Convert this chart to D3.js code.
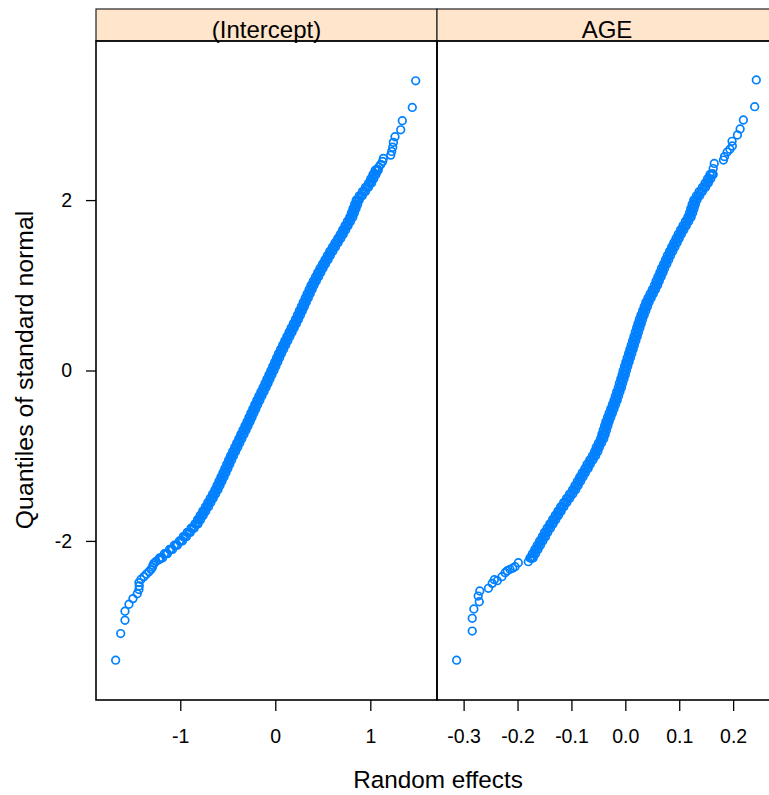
<!DOCTYPE html>
<html>
<head>
<meta charset="utf-8">
<script src="https://cdn.jsdelivr.net/npm/d3@7"></script>
<style>
  html, body { margin: 0; padding: 0; background: #fff; }
  svg { display: block; }
  text { font-family: "Liberation Sans", Arial, Helvetica, sans-serif; fill: #000; }
</style>
</head>
<body>
<svg id="chart" width="769" height="795"></svg>
<script>
// Normal QQ plots of the random effects, one panel per term.

const panelNames = ["(Intercept)", "AGE"];
const yTicks = [-2, 0, 2];
const interceptTicks = [-1, 0, 1];
const ageTicks = [-0.3, -0.2, -0.1, 0.0, 0.1, 0.2];
const xTitle = "Random effects";
const yTitle = "Quantiles of standard normal";

// (Intercept): isolated points in the lower tail, [effect, quantile]
const interceptLow = [
  [-1.680,-3.400],[-1.627,-3.087],[-1.582,-2.931],[-1.582,-2.825],[-1.540,-2.743],
  [-1.498,-2.677],[-1.453,-2.620],[-1.435,-2.571],[-1.432,-2.528],[-1.435,-2.489],
  [-1.414,-2.453],[-1.382,-2.419],[-1.356,-2.389],[-1.329,-2.360],[-1.308,-2.334],
  [-1.293,-2.309],[-1.287,-2.285],[-1.277,-2.263],[-1.256,-2.241],[-1.224,-2.221]
];
// (Intercept): the dense body, [quantile, effects across the band: left, middle, right]
const interceptBand = [
  [-2.20,-1.219,-1.203,-1.187],[-2.15,-1.167,-1.151,-1.135],[-2.10,-1.114,-1.098,-1.082],
  [-2.05,-1.062,-1.046,-1.030],[-2.00,-1.009,-0.993,-0.977],[-1.95,-0.968,-0.952,-0.936],
  [-1.90,-0.927,-0.911,-0.895],[-1.85,-0.886,-0.870,-0.854],[-1.80,-0.845,-0.829,-0.813],
  [-1.75,-0.818,-0.802,-0.786],[-1.70,-0.790,-0.774,-0.758],[-1.65,-0.763,-0.747,-0.731],
  [-1.60,-0.735,-0.719,-0.703],[-1.55,-0.710,-0.694,-0.678],[-1.50,-0.685,-0.669,-0.653],
  [-1.45,-0.660,-0.644,-0.628],[-1.40,-0.635,-0.619,-0.603],[-1.35,-0.614,-0.598,-0.582],
  [-1.30,-0.593,-0.577,-0.561],[-1.25,-0.572,-0.556,-0.540],[-1.20,-0.551,-0.535,-0.519],
  [-1.15,-0.531,-0.515,-0.499],[-1.10,-0.511,-0.495,-0.479],[-1.05,-0.491,-0.475,-0.459],
  [-1.00,-0.471,-0.455,-0.439],[-0.95,-0.449,-0.433,-0.417],[-0.90,-0.427,-0.411,-0.395],
  [-0.85,-0.406,-0.390,-0.374],[-0.80,-0.384,-0.368,-0.352],[-0.75,-0.362,-0.346,-0.330],
  [-0.70,-0.340,-0.324,-0.308],[-0.65,-0.319,-0.303,-0.287],[-0.60,-0.297,-0.281,-0.265],
  [-0.55,-0.277,-0.261,-0.245],[-0.50,-0.257,-0.241,-0.225],[-0.45,-0.236,-0.220,-0.204],
  [-0.40,-0.216,-0.200,-0.184],[-0.35,-0.194,-0.178,-0.162],[-0.30,-0.173,-0.157,-0.141],
  [-0.25,-0.151,-0.135,-0.119],[-0.20,-0.129,-0.113,-0.097],[-0.15,-0.108,-0.092,-0.076],
  [-0.10,-0.088,-0.072,-0.056],[-0.05,-0.067,-0.051,-0.035],[ 0.00,-0.046,-0.030,-0.014],
  [ 0.05,-0.026,-0.010, 0.006],[ 0.10,-0.006, 0.010, 0.026],[ 0.15, 0.014, 0.030, 0.046],
  [ 0.20, 0.034, 0.050, 0.066],[ 0.25, 0.056, 0.072, 0.088],[ 0.30, 0.078, 0.094, 0.110],
  [ 0.35, 0.100, 0.116, 0.132],[ 0.40, 0.122, 0.138, 0.154],[ 0.45, 0.145, 0.161, 0.177],
  [ 0.50, 0.167, 0.183, 0.199],[ 0.55, 0.190, 0.206, 0.222],[ 0.60, 0.212, 0.228, 0.244],
  [ 0.65, 0.233, 0.249, 0.265],[ 0.70, 0.253, 0.269, 0.285],[ 0.75, 0.274, 0.290, 0.306],
  [ 0.80, 0.294, 0.310, 0.326],[ 0.85, 0.315, 0.331, 0.347],[ 0.90, 0.335, 0.351, 0.367],
  [ 0.95, 0.356, 0.372, 0.388],[ 1.00, 0.376, 0.392, 0.408],[ 1.05, 0.400, 0.416, 0.432],
  [ 1.10, 0.424, 0.440, 0.456],[ 1.15, 0.447, 0.463, 0.479],[ 1.20, 0.471, 0.487, 0.503],
  [ 1.25, 0.497, 0.513, 0.529],[ 1.30, 0.523, 0.539, 0.555],[ 1.35, 0.548, 0.564, 0.580],
  [ 1.40, 0.574, 0.590, 0.606],[ 1.45, 0.602, 0.618, 0.634],[ 1.50, 0.629, 0.645, 0.661],
  [ 1.55, 0.657, 0.673, 0.689],[ 1.60, 0.684, 0.700, 0.716],[ 1.65, 0.709, 0.725, 0.741],
  [ 1.70, 0.734, 0.750, 0.766],[ 1.75, 0.759, 0.775, 0.791],[ 1.80, 0.784, 0.800, 0.816],
  [ 1.85, 0.801, 0.817, 0.833],[ 1.90, 0.818, 0.834, 0.850],[ 1.95, 0.835, 0.851, 0.867],
  [ 2.00, 0.852, 0.868, 0.884],[ 2.05, 0.884, 0.900, 0.916],[ 2.10, 0.917, 0.933, 0.949],
  [ 2.15, 0.949, 0.965, 0.981],[ 2.20, 0.982, 0.998, 1.014],[ 2.25, 1.005, 1.021, 1.037],
  [ 2.30, 1.028, 1.044, 1.060],[ 2.35, 1.051, 1.067, 1.083]
];
// (Intercept): isolated points in the upper tail, [effect, quantile]
const interceptHigh = [
  [1.478,3.400],[1.442,3.087],[1.337,2.931],[1.320,2.825],[1.260,2.743],
  [1.243,2.677],[1.236,2.620],[1.225,2.571],[1.215,2.528],[1.137,2.489],
  [1.130,2.453],[1.110,2.419],[1.090,2.389],[1.075,2.360]
];

// AGE: isolated points in the lower tail, [effect, quantile]
const ageLow = [
  [-0.313,-3.400],[-0.284,-3.058],[-0.284,-2.908],[-0.281,-2.799],[-0.271,-2.714],
  [-0.273,-2.647],[-0.270,-2.588],[-0.254,-2.556],[-0.247,-2.498],[-0.2375,-2.467],
  [-0.243,-2.455],[-0.229,-2.420],[-0.223,-2.373],[-0.219,-2.350],[-0.214,-2.333],
  [-0.209,-2.320],[-0.2046,-2.303],[-0.1985,-2.256],[-0.180,-2.244],[-0.174,-2.204]
];
// AGE: the dense body, [quantile, effects across the band: left, middle, right]
const ageBand = [
  [-2.20,-0.177,-0.174,-0.171],[-2.15,-0.1725,-0.1695,-0.1665],[-2.10,-0.168,-0.165,-0.162],
  [-2.05,-0.1635,-0.1605,-0.1575],[-2.00,-0.159,-0.156,-0.153],[-1.95,-0.154,-0.151,-0.148],
  [-1.90,-0.150,-0.147,-0.144],[-1.85,-0.145,-0.142,-0.139],[-1.80,-0.140,-0.137,-0.134],
  [-1.75,-0.135,-0.132,-0.129],[-1.70,-0.130,-0.127,-0.124],[-1.65,-0.125,-0.122,-0.119],
  [-1.60,-0.120,-0.117,-0.114],[-1.55,-0.1145,-0.1115,-0.1085],[-1.50,-0.109,-0.106,-0.103],
  [-1.45,-0.1035,-0.1005,-0.0975],[-1.40,-0.098,-0.095,-0.092],[-1.35,-0.0935,-0.0905,-0.0875],
  [-1.30,-0.089,-0.086,-0.083],[-1.25,-0.0845,-0.0815,-0.0785],[-1.20,-0.080,-0.077,-0.074],
  [-1.15,-0.075,-0.072,-0.069],[-1.10,-0.071,-0.068,-0.065],[-1.05,-0.066,-0.063,-0.060],
  [-1.00,-0.061,-0.058,-0.055],[-0.95,-0.057,-0.054,-0.051],[-0.90,-0.054,-0.051,-0.048],
  [-0.85,-0.050,-0.047,-0.044],[-0.80,-0.046,-0.043,-0.040],[-0.75,-0.0435,-0.0405,-0.0375],
  [-0.70,-0.041,-0.038,-0.035],[-0.65,-0.0385,-0.0355,-0.0325],[-0.60,-0.036,-0.033,-0.030],
  [-0.55,-0.033,-0.030,-0.027],[-0.50,-0.030,-0.027,-0.024],[-0.45,-0.027,-0.024,-0.021],
  [-0.40,-0.024,-0.021,-0.018],[-0.35,-0.021,-0.018,-0.015],[-0.30,-0.0185,-0.0155,-0.0125],
  [-0.25,-0.016,-0.013,-0.010],[-0.20,-0.013,-0.010,-0.007],[-0.15,-0.011,-0.008,-0.005],
  [-0.10,-0.0085,-0.0055,-0.0025],[-0.05,-0.006,-0.003,0.000],[ 0.00,-0.004,-0.001,0.002],
  [ 0.05,-0.0015,0.0015,0.0045],[ 0.10,0.001,0.004,0.007],[ 0.15,0.0035,0.0065,0.0095],
  [ 0.20,0.006,0.009,0.012],[ 0.25,0.0085,0.0115,0.0145],[ 0.30,0.011,0.014,0.017],
  [ 0.35,0.0135,0.0165,0.0195],[ 0.40,0.016,0.019,0.022],[ 0.45,0.0185,0.0215,0.0245],
  [ 0.50,0.021,0.024,0.027],[ 0.55,0.0235,0.0265,0.0295],[ 0.60,0.026,0.029,0.032],
  [ 0.65,0.029,0.032,0.035],[ 0.70,0.032,0.035,0.038],[ 0.75,0.035,0.038,0.041],
  [ 0.80,0.038,0.041,0.044],[ 0.85,0.042,0.045,0.048],[ 0.90,0.046,0.049,0.052],
  [ 0.95,0.050,0.053,0.056],[ 1.00,0.054,0.057,0.060],[ 1.05,0.057,0.060,0.063],
  [ 1.10,0.0605,0.0635,0.0665],[ 1.15,0.064,0.067,0.070],[ 1.20,0.067,0.070,0.073],
  [ 1.25,0.071,0.074,0.077],[ 1.30,0.0745,0.0775,0.0805],[ 1.35,0.078,0.081,0.084],
  [ 1.40,0.082,0.085,0.088],[ 1.45,0.086,0.089,0.092],[ 1.50,0.090,0.093,0.096],
  [ 1.55,0.094,0.097,0.100],[ 1.60,0.098,0.101,0.104],[ 1.65,0.1025,0.1055,0.1085],
  [ 1.70,0.107,0.110,0.113],[ 1.75,0.1115,0.1145,0.1175],[ 1.80,0.116,0.119,0.122],
  [ 1.85,0.119,0.122,0.125],[ 1.90,0.1215,0.1245,0.1275],[ 1.95,0.124,0.127,0.130],
  [ 2.00,0.127,0.130,0.133],[ 2.05,0.132,0.135,0.138],[ 2.10,0.137,0.140,0.143],
  [ 2.15,0.143,0.146,0.149],[ 2.20,0.148,0.151,0.154],[ 2.25,0.1525,0.1555,0.1585],
  [ 2.30,0.157,0.160,0.163]
];
// AGE: isolated points in the upper tail, [effect, quantile]
const ageHigh = [
  [0.243,3.410],[0.240,3.096],[0.219,2.940],[0.213,2.835],[0.208,2.764],
  [0.198,2.690],[0.1985,2.635],[0.194,2.596],[0.189,2.564],[0.184,2.510],
  [0.182,2.470],[0.165,2.430],[0.163,2.370],[0.162,2.310]
];

// ---------------------------------------------------------------------------
const svg = d3.select("#chart");
const plotTop = 41, plotBottom = 700, stripTop = 9;
const pointColor = "#0080ff";
const fmtInt = d => String(d);
const fmtOne = d => d.toFixed(1);

const panels = [
  { name: panelNames[0], x0: 96,  x1: 437, domain: [-1.887, 1.702],
    ticks: interceptTicks, fmt: fmtInt, low: interceptLow, band: interceptBand, high: interceptHigh },
  { name: panelNames[1], x0: 437, x1: 777, domain: [-0.3494, 0.2814],
    ticks: ageTicks, fmt: fmtOne, low: ageLow, band: ageBand, high: ageHigh }
];

const y = d3.scaleLinear().domain([-3.867, 3.867]).range([plotBottom, plotTop]);

panels.forEach(p => {
  const x = d3.scaleLinear().domain(p.domain).range([p.x0, p.x1]);

  // gather the points: [effect, quantile]
  const pts = [];
  p.low.forEach(d => pts.push(d));
  p.band.forEach(r => r.slice(1).forEach(v => pts.push([v, r[0]])));
  p.high.forEach(d => pts.push(d));

  // strip
  svg.append("rect")
    .attr("x", p.x0).attr("y", stripTop)
    .attr("width", p.x1 - p.x0).attr("height", plotTop - stripTop)
    .attr("fill", "#ffe5cc").attr("stroke", "#222").attr("stroke-width", 1.2);
  svg.append("text")
    .attr("x", (p.x0 + p.x1) / 2).attr("y", 37.7)
    .attr("text-anchor", "middle").attr("font-size", "24px")
    .text(p.name);

  // points
  svg.append("g").selectAll("circle").data(pts).join("circle")
    .attr("cx", d => x(d[0])).attr("cy", d => y(d[1]))
    .attr("r", 3.8)
    .attr("fill", "none").attr("stroke", pointColor).attr("stroke-width", 1.7);

  // panel frame
  svg.append("rect")
    .attr("x", p.x0).attr("y", plotTop)
    .attr("width", p.x1 - p.x0).attr("height", plotBottom - plotTop)
    .attr("fill", "none").attr("stroke", "#000").attr("stroke-width", 1.6);

  // bottom axis
  const gx = svg.append("g").attr("transform", `translate(0,${plotBottom})`)
    .call(d3.axisBottom(x).tickValues(p.ticks).tickFormat(p.fmt).tickSize(11).tickPadding(18));
  gx.select(".domain").remove();
  gx.selectAll("line").attr("stroke", "#000").attr("stroke-width", 1.3);
  gx.selectAll("text").attr("font-size", "19.5px").attr("fill", "#000");
  gx.attr("font-family", null);
});

// left axis
const x0 = panels[0].x0;
const gy = svg.append("g").attr("transform", `translate(${x0},0)`)
  .call(d3.axisLeft(y).tickValues(yTicks).tickFormat(fmtInt).tickSize(10).tickPadding(14));
gy.select(".domain").remove();
gy.selectAll("line").attr("stroke", "#000").attr("stroke-width", 1.3);
gy.selectAll("text").attr("font-size", "19.5px").attr("fill", "#000");
gy.attr("font-family", null);

// axis titles
svg.append("text")
  .attr("x", 438).attr("y", 788)
  .attr("text-anchor", "middle").attr("font-size", "24.3px")
  .text(xTitle);
svg.append("text")
  .attr("transform", "translate(33,370) rotate(-90)")
  .attr("text-anchor", "middle").attr("font-size", "24.8px")
  .text(yTitle);
</script>
</body>
</html>
